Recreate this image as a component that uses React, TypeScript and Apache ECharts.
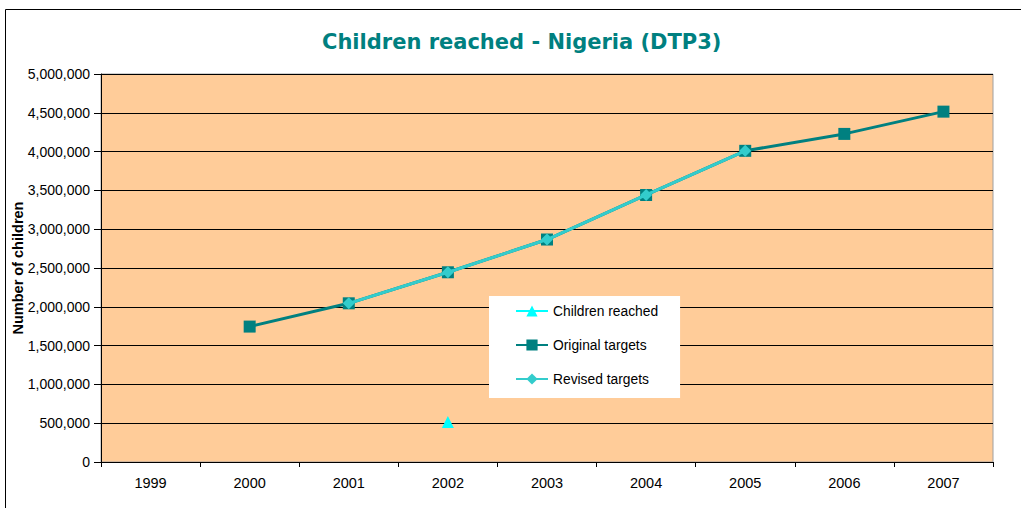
import React, { useEffect, useRef } from "react";
import * as echarts from "echarts";

const years = ["1999", "2000", "2001", "2002", "2003", "2004", "2005", "2006", "2007"];
const childrenReached = [null, null, null, 515000, null, null, null, null, null];
const originalTargets = [null, 1745000, 2045000, 2445000, 2867000, 3441000, 4010000, 4228000, 4515000];
const revisedTargets = [null, null, 2045000, 2445000, 2867000, 3441000, 4010000, null, null];
const yTicks = { min: 0, max: 5000000, interval: 500000 };

const FONT = "'Liberation Sans', Arial, sans-serif";

export default function App() {
  const ref = useRef<HTMLDivElement>(null);
  useEffect(() => {
    const chart = echarts.init(ref.current!, null, { renderer: "svg" });
    chart.setOption({
      animation: false,
      backgroundColor: "#ffffff",
      title: {
        text: "Children reached - Nigeria (DTP3)",
        left: 317,
        top: 26,
        textStyle: { color: "#008080", fontSize: 21, fontWeight: "bold", fontFamily: "'DejaVu Sans', Verdana, sans-serif" },
      },
      graphic: [
        {
          type: "rect",
          shape: { x: 5.5, y: 9.5, width: 1040, height: 520 },
          style: { fill: "none", stroke: "#000000", lineWidth: 1 },
          silent: true,
        },
      ],
      grid: {
        left: 101,
        right: 28,
        top: 74,
        bottom: 46,
        show: true,
        backgroundColor: "#FFCC99",
        borderColor: "#a0a0a0",
        borderWidth: 1,
        containLabel: false,
        outerBoundsMode: "none",
      },
      legend: {
        orient: "vertical",
        left: 489,
        top: 296,
        backgroundColor: "#ffffff",
        padding: [8, 22, 12, 26],
        itemWidth: 32,
        itemHeight: 14,
        itemGap: 20,
        data: ["Children reached", "Original targets", "Revised targets"],
        textStyle: { color: "#000000", fontSize: 13.8, fontFamily: FONT },
      },
      xAxis: {
        type: "category",
        data: years,
        boundaryGap: true,
        axisLine: { lineStyle: { color: "#000000", width: 1 } },
        axisTick: { show: true, length: 5, lineStyle: { color: "#000000" } },
        axisLabel: { color: "#000000", fontSize: 14.5, fontFamily: FONT, margin: 13 },
        splitLine: { show: false },
      },
      yAxis: {
        type: "value",
        min: yTicks.min,
        max: yTicks.max,
        interval: yTicks.interval,
        name: "Number of children",
        nameLocation: "middle",
        nameRotate: 90,
        nameGap: 76,
        nameMoveOverlap: false,
        nameTextStyle: { color: "#000000", fontSize: 14.5, fontWeight: "bold", fontFamily: FONT },
        axisLine: { show: true, lineStyle: { color: "#000000", width: 1 } },
        axisTick: { show: true, length: 7, lineStyle: { color: "#000000" } },
        axisLabel: {
          color: "#000000",
          fontSize: 14,
          fontFamily: FONT,
          margin: 11,
          formatter: (v: number) => v.toLocaleString("en-US"),
        },
        splitLine: { show: true, lineStyle: { color: "#000000", width: 1 } },
      },
      series: [
        {
          name: "Original targets",
          type: "line",
          data: originalTargets,
          color: "#008080",
          symbol: "rect",
          symbolSize: 12,
          lineStyle: { width: 3, color: "#008080" },
          itemStyle: { color: "#008080" },
          z: 2,
        },
        {
          name: "Revised targets",
          type: "line",
          data: revisedTargets,
          color: "#33CCCC",
          symbol: "diamond",
          symbolSize: 12,
          lineStyle: { width: 3, color: "#33CCCC" },
          itemStyle: { color: "#33CCCC" },
          z: 3,
        },
        {
          name: "Children reached",
          type: "line",
          data: childrenReached,
          color: "#00FFFF",
          symbol: "triangle",
          symbolSize: 12,
          showSymbol: true,
          lineStyle: { width: 3, color: "#00FFFF" },
          itemStyle: { color: "#00FFFF" },
          z: 4,
        },
      ],
    });
    return () => chart.dispose();
  }, []);
  return (
    <div
      ref={ref}
      style={{ position: "fixed", left: 0, top: 0, width: 1021, height: 508 }}
    />
  );
}
